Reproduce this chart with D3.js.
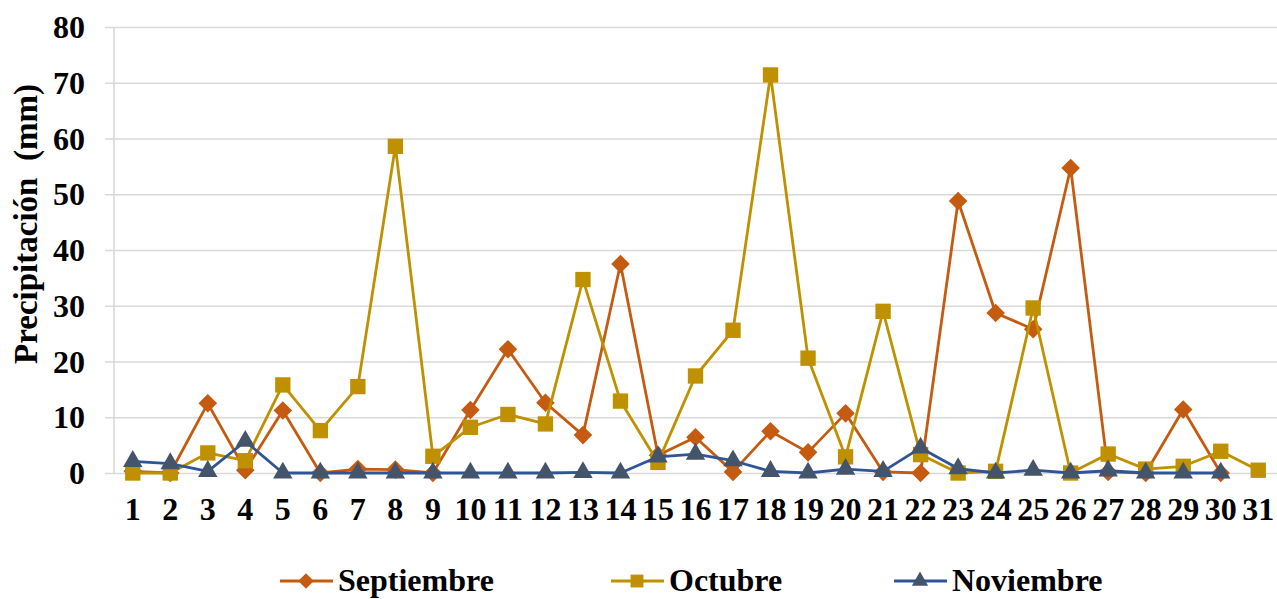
<!DOCTYPE html>
<html>
<head>
<meta charset="utf-8">
<script src="https://cdn.jsdelivr.net/npm/d3@7"></script>
<style>
  html, body { margin: 0; padding: 0; background: #fff; }
  svg { display: block; }
  text { font-family: "Liberation Serif", "Times New Roman", serif; font-weight: bold; fill: #000; }
</style>
</head>
<body>
<svg id="chart" width="1277" height="599"></svg>
<script>
// Daily precipitation (mm) per day of month
const days = d3.range(1, 32);
const yTicks = [0, 10, 20, 30, 40, 50, 60, 70, 80];

const septiembre = [0.3, 0, 12.5, 0.5, 11.2, 0, 0.7, 0.6, 0, 11.3, 22.2, 12.6, 6.8, 37.5, 3.2,
  6.4, 0.2, 7.5, 3.7, 10.7, 0.2, 0, 48.8, 28.7, 25.8, 54.7, 0.2, 0, 11.4, 0];
const octubre = [0, 0, 3.6, 2.2, 15.8, 7.6, 15.5, 58.6, 3.0, 8.2, 10.5, 8.8, 34.7, 12.9, 1.9,
  17.4, 25.6, 71.4, 20.6, 2.9, 29.0, 3.3, 0, 0.3, 29.6, 0, 3.4, 0.7, 1.2, 3.9, 0.5];
const noviembre = [2.1, 1.7, 0.3, 5.7, 0, 0, 0, 0, 0, 0, 0, 0, 0.1, 0, 2.9,
  3.4, 2.2, 0.3, 0, 0.7, 0.3, 4.5, 0.8, 0, 0.5, 0, 0.4, 0, 0, 0];

const seriesNames = ["Septiembre", "Octubre", "Noviembre"];
const seriesValues = [septiembre, octubre, noviembre];

const styles = [
  { line: "#C55A11", fill: "#C55A11", symbol: d3.symbolDiamond2, size: 220 },
  { line: "#BF9000", fill: "#BF9000", symbol: d3.symbolSquare2, size: 300 },
  { line: "#2F5597", fill: "#44546A", symbol: d3.symbolTriangle2, size: 270 }
];

const svg = d3.select("#chart");
const plot = { left: 114, right: 1277, top: 27, bottom: 473 };

const x = d3.scaleBand().domain(days).range([plot.left, plot.right]).padding(0);
const y = d3.scaleLinear().domain([0, 80]).range([plot.bottom, plot.top]);
const cx = d => x(d) + x.bandwidth() / 2;

// Horizontal gridlines with small ticks left of the axis
const yAxis = d3.axisLeft(y).tickValues(yTicks)
  .tickSize(-(plot.right - plot.left)).tickSizeOuter(0).tickPadding(0)
  .tickFormat(d3.format("d"));
const gy = svg.append("g").attr("transform", `translate(${plot.left},0)`).call(yAxis);
gy.select(".domain").remove();
gy.selectAll(".tick line").attr("stroke", "#d9d9d9").attr("stroke-width", 1.6)
  .attr("x1", -9);
gy.selectAll(".tick text").attr("x", -29).attr("dy", "0.33em")
  .style("font-size", "32px").attr("fill", "#000");

// Vertical axis line
svg.append("line")
  .attr("x1", plot.left).attr("x2", plot.left)
  .attr("y1", y(80)).attr("y2", y(0))
  .attr("stroke", "#d9d9d9").attr("stroke-width", 1.6);

// Category axis labels
const xAxis = d3.axisBottom(x).tickSize(0).tickPadding(0);
const gx = svg.append("g").attr("transform", `translate(0,${plot.bottom})`).call(xAxis);
gx.select(".domain").remove();
gx.selectAll(".tick text").attr("y", 47).attr("dy", 0)
  .style("font-size", "32px").attr("fill", "#000");

// Axis title
svg.append("text")
  .attr("transform", `translate(37,${224}) rotate(-90)`)
  .attr("text-anchor", "middle")
  .style("font-size", "33px")
  .style("white-space", "pre")
  .text("Precipitación  (mm)");

// Series lines and markers
const line = d3.line().x(d => cx(d.day)).y(d => y(d.v));
seriesValues.forEach((vals, i) => {
  const st = styles[i];
  const pts = vals.map((v, k) => ({ day: days[k], v }));
  const g = svg.append("g");
  g.append("path").datum(pts)
    .attr("d", line).attr("fill", "none")
    .attr("stroke", st.line).attr("stroke-width", 2.8)
    .attr("stroke-linejoin", "round");
  g.selectAll("path.mk").data(pts).join("path").attr("class", "mk")
    .attr("transform", d => `translate(${cx(d.day)},${y(d.v)})`)
    .attr("d", d3.symbol(st.symbol, st.size))
    .attr("fill", st.fill);
});

// Legend
const legendX = [306, 637, 920];
const legendY = 581;
seriesNames.forEach((name, i) => {
  const st = styles[i];
  const g = svg.append("g").attr("transform", `translate(${legendX[i]},${legendY})`);
  g.append("line").attr("x1", -26).attr("x2", 27).attr("y1", 0).attr("y2", 0)
    .attr("stroke", st.line).attr("stroke-width", 3);
  g.append("path").attr("d", d3.symbol(st.symbol, st.size * 0.7)).attr("fill", st.fill);
  g.append("text").attr("x", 32).attr("y", 10)
    .style("font-size", "32px").text(name);
});
</script>
</body>
</html>
